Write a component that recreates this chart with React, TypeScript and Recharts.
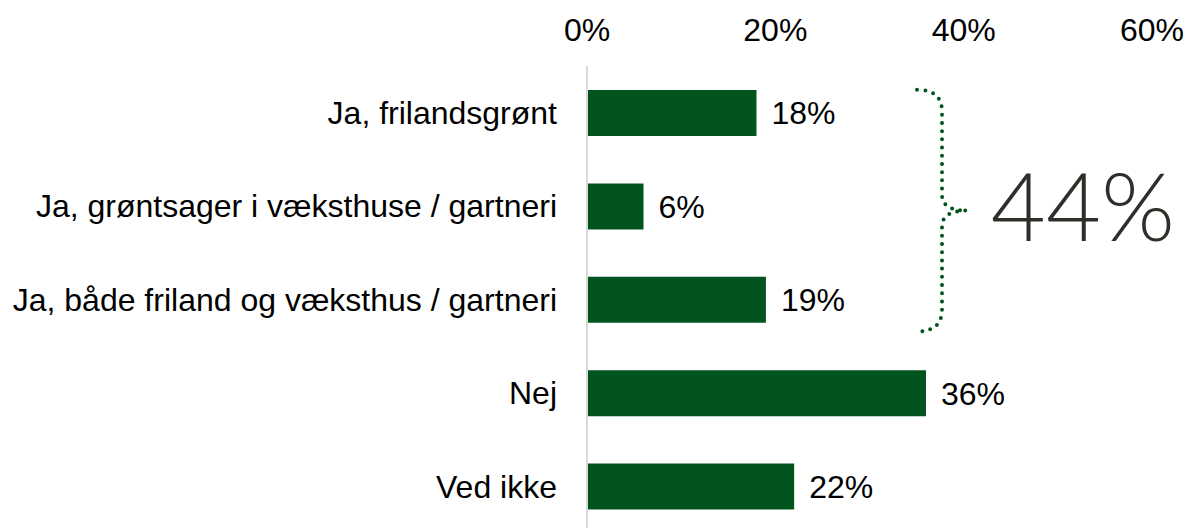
import React from 'react';
import { BarChart, Bar, XAxis, YAxis, LabelList } from 'recharts';

const categories = [
  'Ja, frilandsgrønt',
  'Ja, grøntsager i væksthuse / gartneri',
  'Ja, både friland og væksthus / gartneri',
  'Nej',
  'Ved ikke',
];
const shares = [0.18, 0.06, 0.19, 0.36, 0.22];
const xTicks = [0, 0.2, 0.4, 0.6];
const bracketTotal = '44%';

const data = categories.map((name, i) => ({ name, value: shares[i] }));

const W = 1186;
const H = 533;
const PLOT_LEFT = 587;
const PLOT_RIGHT = 34;
const PLOT_TOP = 66;
const GREEN = '#02541f';
const FONT = 'Liberation Sans, Arial, sans-serif';
const FS = 32;

const pct = (v: number) => `${Math.round(v * 100)}%`;

// dotted curly bracket grouping the three "Ja" answers, plus their total
const Bracket = () => {
  const band = (H - PLOT_TOP) / categories.length;
  const top = PLOT_TOP + band * 0.5 - 23;
  const bottom = PLOT_TOP + band * 2.5 + 32;
  const mid = (top + bottom) / 2;
  const x0 = 917;
  const x1 = 942;
  const x2 = 967;
  const d = `M ${x0} ${top} Q ${x1} ${top} ${x1} ${top + 22} L ${x1} ${mid - 16} Q ${x1} ${mid} ${x2} ${mid} Q ${x1} ${mid} ${x1} ${mid + 16} L ${x1} ${bottom - 22} Q ${x1} ${bottom} ${x0} ${bottom}`;
  return (
    <svg width={W} height={H} style={{ position: 'absolute', left: 0, top: 0, pointerEvents: 'none' }}>
      <path d={d} fill="none" stroke={GREEN} strokeWidth={4} strokeLinecap="round" strokeDasharray="0 8.2" />
      <text x={1083} y={mid + 30} textAnchor="middle" fontFamily="Lato, 'Open Sans', sans-serif" fontWeight={300} fontSize={95} fill="#2f2f2a">
        {bracketTotal}
      </text>
    </svg>
  );
};

export default function App() {
  return (
    <div style={{ position: 'absolute', left: 0, top: 0, width: W, height: H, background: '#fff' }}>
      <BarChart
        width={W}
        height={H}
        data={data}
        layout="vertical"
        margin={{ top: 0, right: PLOT_RIGHT, bottom: 0, left: 0 }}
        barCategoryGap={0}
      >
        <XAxis
          type="number"
          orientation="top"
          domain={[0, 0.6]}
          ticks={xTicks}
          tickFormatter={pct}
          height={PLOT_TOP}
          axisLine={false}
          tickLine={false}
          tickMargin={19}
          tick={{ fill: '#000', fontSize: FS, fontFamily: FONT }}
        />
        <YAxis
          type="category"
          dataKey="name"
          width={PLOT_LEFT}
          axisLine={{ stroke: '#d9d9d9', strokeWidth: 2 }}
          tickLine={false}
          tickMargin={24}
          tick={{ fill: '#000', fontSize: FS, fontFamily: FONT }}
        />
        <Bar dataKey="value" fill={GREEN} barSize={46} isAnimationActive={false}>
          <LabelList
            dataKey="value"
            position="right"
            offset={15}
            formatter={(v: any) => pct(Number(v))}
            style={{ fill: '#000', fontSize: FS, fontFamily: FONT }}
          />
        </Bar>
      </BarChart>
      <Bracket />
    </div>
  );
}
